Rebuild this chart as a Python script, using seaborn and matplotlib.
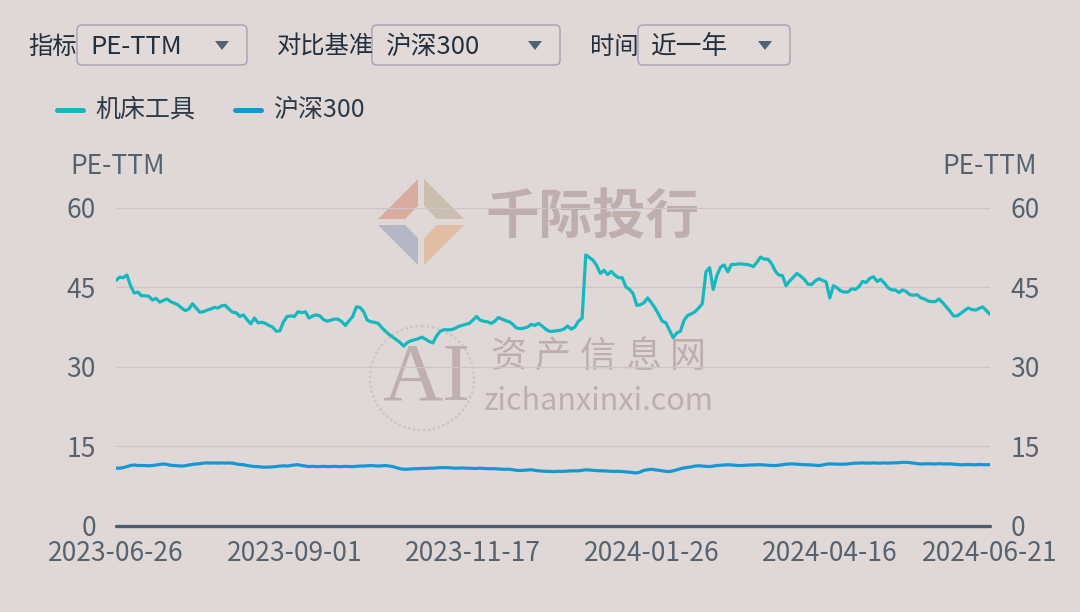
import numpy as np
import pandas as pd
import matplotlib
matplotlib.use("Agg")
import matplotlib.pyplot as plt
import seaborn as sns
from matplotlib.patches import FancyBboxPatch, Polygon, Circle
from matplotlib.lines import Line2D

# ---------------- data ----------------
series_names = ["机床工具", "沪深300"]
tick_labels = ["2023-06-26", "2023-09-01", "2023-11-17", "2024-01-26", "2024-04-16", "2024-06-21"]
tick_index = [0, 49, 98, 147, 196, 240]
y_ticks = [0, 15, 30, 45, 60]

jichuang = [
    46.3, 46.9, 46.8, 47.3, 45.3, 43.9, 44.1, 43.4, 43.4, 43.3,
    42.6, 42.9, 42.2, 42.5, 42.8, 42.3, 42.0, 41.7, 41.1, 40.6,
    40.9, 41.9, 41.1, 40.3, 40.4, 40.7, 40.9, 41.2, 41.1, 41.5,
    41.6, 40.9, 40.3, 40.2, 39.5, 39.8, 38.9, 38.1, 39.2, 38.3,
    38.4, 38.2, 37.8, 37.5, 36.7, 36.8, 38.5, 39.5, 39.6, 39.5,
    40.4, 40.2, 40.4, 39.2, 39.6, 39.8, 39.6, 38.9, 38.6, 38.8,
    39.0, 39.0, 38.5, 37.8, 38.7, 39.5, 41.3, 41.2, 40.4, 38.8,
    38.5, 38.4, 38.2, 37.4, 36.7, 36.1, 35.6, 35.1, 34.6, 33.9,
    34.6, 34.9, 35.1, 35.3, 35.6, 35.2, 34.8, 34.5, 35.8, 36.7,
    37.0, 37.0, 37.0, 37.2, 37.6, 37.8, 38.0, 38.2, 38.8, 39.5,
    38.8, 38.6, 38.5, 38.2, 38.6, 39.3, 39.0, 38.7, 38.5, 38.0,
    37.3, 37.2, 37.3, 37.5, 38.0, 37.8, 38.2, 37.7, 37.1, 36.7,
    36.7, 36.8, 36.9, 37.1, 37.7, 37.1, 37.5, 38.6, 39.2, 51.1,
    50.6, 50.1, 49.1, 47.6, 48.2, 47.4, 48.0, 47.3, 46.8, 46.8,
    45.1, 44.6, 43.8, 41.6, 41.7, 42.1, 43.0, 42.1, 41.1, 39.9,
    38.6, 38.3, 36.9, 35.5, 36.4, 36.7, 38.8, 39.7, 40.0, 40.4,
    41.1, 41.9, 47.9, 48.7, 44.6, 47.2, 48.8, 49.2, 47.9, 49.3,
    49.3, 49.4, 49.4, 49.3, 49.2, 48.9, 49.7, 50.7, 50.3, 50.3,
    49.5, 48.1, 47.3, 47.2, 45.3, 46.2, 46.9, 47.6, 47.1, 46.5,
    45.6, 45.5, 46.2, 46.6, 46.3, 46.0, 43.0, 45.3, 44.9, 44.3,
    44.1, 44.1, 44.7, 44.6, 45.1, 46.1, 45.9, 46.7, 47.0, 46.1,
    46.5, 45.8, 44.9, 44.5, 44.5, 44.0, 44.5, 44.2, 43.6, 43.5,
    43.6, 43.0, 42.8, 42.4, 42.3, 42.3, 42.8, 42.1, 41.3, 40.5,
    39.6, 39.6, 40.1, 40.6, 41.1, 40.8, 40.7, 41.0, 41.3, 40.6,
    39.9,
]

hs300 = [
    10.9, 10.9, 11.0, 11.2, 11.4, 11.5, 11.4, 11.4, 11.4, 11.35,
    11.4, 11.5, 11.6, 11.7, 11.6, 11.45, 11.4, 11.35, 11.3, 11.35,
    11.5, 11.6, 11.7, 11.75, 11.85, 11.9, 11.85, 11.9, 11.85, 11.9,
    11.85, 11.9, 11.85, 11.7, 11.6, 11.55, 11.4, 11.3, 11.2, 11.2,
    11.1, 11.1, 11.1, 11.15, 11.2, 11.3, 11.35, 11.3, 11.4, 11.5,
    11.55, 11.4, 11.3, 11.2, 11.25, 11.2, 11.2, 11.25, 11.2, 11.2,
    11.25, 11.2, 11.2, 11.25, 11.2, 11.2, 11.25, 11.3, 11.3, 11.35,
    11.4, 11.35, 11.3, 11.35, 11.4, 11.3, 11.2, 11.0, 10.8, 10.7,
    10.7, 10.75, 10.8, 10.8, 10.85, 10.85, 10.9, 10.9, 10.95, 11.0,
    11.0, 11.0, 10.95, 10.9, 10.9, 10.95, 10.9, 10.9, 10.85, 10.85,
    10.9, 10.85, 10.8, 10.8, 10.8, 10.75, 10.7, 10.7, 10.7, 10.6,
    10.5, 10.45, 10.5, 10.55, 10.6, 10.5, 10.4, 10.35, 10.3, 10.3,
    10.25, 10.3, 10.3, 10.3, 10.35, 10.4, 10.4, 10.4, 10.5, 10.6,
    10.55, 10.5, 10.45, 10.4, 10.4, 10.35, 10.3, 10.3, 10.3, 10.25,
    10.2, 10.15, 10.05, 10.0, 10.2, 10.5, 10.6, 10.7, 10.6, 10.5,
    10.4, 10.3, 10.25, 10.4, 10.6, 10.8, 10.95, 11.05, 11.15, 11.3,
    11.35, 11.3, 11.25, 11.2, 11.3, 11.4, 11.45, 11.5, 11.55, 11.5,
    11.45, 11.4, 11.4, 11.45, 11.5, 11.5, 11.55, 11.55, 11.5, 11.45,
    11.4, 11.4, 11.45, 11.55, 11.65, 11.7, 11.7, 11.65, 11.6, 11.55,
    11.55, 11.5, 11.45, 11.4, 11.5, 11.65, 11.7, 11.7, 11.65, 11.65,
    11.65, 11.7, 11.8, 11.85, 11.85, 11.9, 11.85, 11.85, 11.9, 11.85,
    11.85, 11.9, 11.85, 11.9, 11.9, 11.95, 12.0, 12.0, 11.95, 11.85,
    11.75, 11.7, 11.7, 11.75, 11.7, 11.7, 11.75, 11.7, 11.7, 11.7,
    11.65, 11.6, 11.55, 11.55, 11.6, 11.55, 11.55, 11.6, 11.55, 11.55,
    11.55,
]

# ---------------- style ----------------
BG = "#e0d8d6"
TEAL = "#14b8bf"
BLUE = "#1697d2"
TICK_C = "#56636f"
DARK = "#22303d"

sns.set_style("white")
plt.rcParams["font.family"] = ["Noto Sans CJK SC", "DejaVu Sans"]

W, H = 1080, 612
fig = plt.figure(figsize=(W / 100, H / 100), dpi=100, facecolor=BG)

# background / annotation layer in pixel coordinates
bg = fig.add_axes([0, 0, 1, 1], zorder=0)
bg.set_xlim(0, W)
bg.set_ylim(H, 0)
bg.axis("off")
bg.set_facecolor(BG)

# ---- watermark ----
wm = "#bfaeae"
cx, cy, r, s, g = 421, 222, 46, 27, 3
pieces = [
    ([(cx - r + g, cy - g), (cx - g, cy - r + g), (cx - g, cy - r + g + s), (cx - r + g + s, cy - g)], "#d8a898"),
    ([(cx + r - g, cy - g), (cx + g, cy - r + g), (cx + g, cy - r + g + s), (cx + r - g - s, cy - g)], "#c8bcaa"),
    ([(cx - r + g, cy + g), (cx - g, cy + r - g), (cx - g, cy + r - g - s), (cx - r + g + s, cy + g)], "#b0b4c4"),
    ([(cx + r - g, cy + g), (cx + g, cy + r - g), (cx + g, cy + r - g - s), (cx + r - g - s, cy + g)], "#dfbc9e"),
]
for pts, col in pieces:
    bg.add_patch(Polygon(pts, closed=True, facecolor=col, edgecolor="none", alpha=0.9))
bg.text(486, 218, "千际投行", fontsize=38.5, fontweight="bold", color=wm, ha="left", va="center")
for k, ch in enumerate("资产信息网"):
    bg.text(508 + k * 45, 357, ch, fontsize=26, color=wm, ha="center", va="center")
bg.text(484, 402, "zichanxinxi.com", fontsize=22, fontweight="medium", color=wm, ha="left", va="center")
bg.text(426, 380, "AI", fontsize=60, color="#c0afaf", ha="center", va="center",
        family="Liberation Serif")
bg.add_patch(Circle((422, 378), 52, facecolor="none", edgecolor="#d0c4c4", lw=1.8, ls=(0, (1, 1))))

# ---- controls ----
def dropdown(x0, x1, value):
    bg.add_patch(FancyBboxPatch((x0, 25), x1 - x0, 40, boxstyle="round,pad=0,rounding_size=5",
                                facecolor="#e2dad9", edgecolor="#aaa4b8", lw=1.1))
    bg.text(x0 + 13, 47, value, fontsize=18.5, color=DARK, ha="left", va="center")
    tx = x1 - 25
    bg.add_patch(Polygon([(tx - 7, 41), (tx + 7, 41), (tx, 50)], closed=True,
                         facecolor="#4e6274", edgecolor="none"))

bg.text(28, 47, "指标", fontsize=17.5, color=DARK, ha="left", va="center")
dropdown(77, 247, "PE-TTM")
bg.text(277, 47, "对比基准", fontsize=17.5, color=DARK, ha="left", va="center")
dropdown(372, 560, series_names[1])
bg.text(590, 47, "时间", fontsize=17.5, color=DARK, ha="left", va="center")
dropdown(638, 790, "近一年")

# ---- legend ----
colors = {series_names[0]: TEAL, series_names[1]: BLUE}
for (lx, tx), name in zip([(55, 95), (233, 273)], series_names):
    bg.add_line(Line2D([lx + 2, lx + 28], [110, 110], color=colors[name], lw=3.6, solid_capstyle="round"))
    bg.text(tx, 110, name, fontsize=18, color="#2c3a48", ha="left", va="center")

# axis names
bg.text(70, 166, "PE-TTM", fontsize=19, color=TICK_C, ha="left", va="center")
bg.text(1037, 166, "PE-TTM", fontsize=19, color=TICK_C, ha="right", va="center")

# ---------------- chart ----------------
left, right, top, bottom = 116, 990, 207.7, 526
ax = fig.add_axes([left / W, 1 - bottom / H, (right - left) / W, (bottom - top) / H], zorder=1)
ax.set_facecolor("none")

df = pd.DataFrame({
    "idx": list(range(len(jichuang))) + list(range(len(hs300))),
    "value": jichuang + hs300,
    "series": [series_names[0]] * len(jichuang) + [series_names[1]] * len(hs300),
})
sns.lineplot(data=df, x="idx", y="value", hue="series", palette=colors, linewidth=2.3,
             legend=False, ax=ax, solid_joinstyle="round")

ax.set_xlim(0, len(jichuang) - 1)
ax.set_ylim(0, 60)
ax.set_yticks(y_ticks)
ax.set_xticks(tick_index)
ax.set_xticklabels(tick_labels)
ax.set_xlabel("")
ax.set_ylabel("")
for side in ["top", "left", "right"]:
    ax.spines[side].set_visible(False)
ax.spines["bottom"].set_color("#4a5e72")
ax.spines["bottom"].set_linewidth(2.4)
ax.spines["bottom"].set_capstyle("round")
ax.yaxis.grid(True, color="#cdc3cb", lw=0.9)
ax.xaxis.grid(False)
ax.set_axisbelow(True)
ax.tick_params(axis="y", left=False, right=False, labelleft=True, labelright=True,
               pad=11, labelsize=19, labelcolor=TICK_C)
ax.tick_params(axis="x", bottom=False, length=0, pad=10, labelsize=19, labelcolor=TICK_C)

fig.savefig("out.png", dpi=100, facecolor=BG)
